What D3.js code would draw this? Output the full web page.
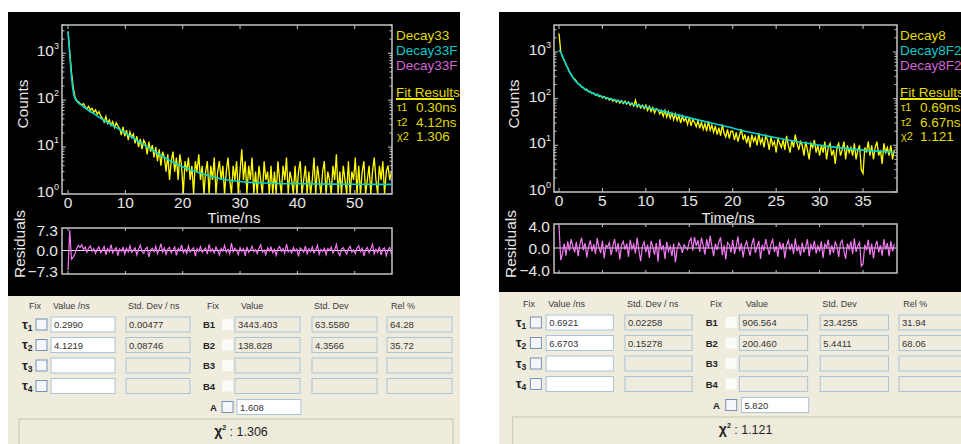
<!DOCTYPE html>
<html>
<head>
<meta charset="utf-8">
<script src="https://cdn.jsdelivr.net/npm/d3@7"></script>
<style>
  body { margin: 0; background: #fff; }
  svg { display: block; }
  text { font-family: "Liberation Sans", Arial, sans-serif; }
</style>
</head>
<body>
<div id="chart"></div>
<script>
// ---- left panel (Decay33) ----
var leftStep = 0.3; // ns per channel
var leftCounts = [
  2900, 1050, 400, 190, 120, 98, 92, 85, 80, 84,
  72, 66, 74, 61, 67, 55, 62, 50, 57, 46,
  41, 34, 45, 32, 38, 29, 35, 26, 33, 28,
  25, 18, 27, 17, 23, 14, 21, 16, 19, 12,
  17, 10, 15, 9, 14, 12, 7, 13, 8, 11,
  6, 10, 5, 9, 4, 8, 6, 3, 7, 2,
  5, 8, 3, 6, 2, 7, 4, 1, 5, 3,
  6, 2, 4, 1, 5, 3, 7, 2, 4, 1,
  3, 5, 1, 4, 2, 6, 1, 3, 5, 2,
  4, 1, 3, 6, 2, 1, 4, 2, 5, 1,
  3, 9, 2, 5, 1, 4, 2, 6, 1, 3,
  1, 4, 2, 1, 5, 2, 3, 1, 4, 1,
  3, 1, 5, 2, 1, 4, 2, 6, 1, 3,
  2, 1, 4, 1, 3, 5, 1, 2, 4, 1,
  3, 1, 2, 6, 1, 4, 2, 1, 3, 5,
  1, 3, 2, 1, 4, 2, 7, 1, 3, 1,
  4, 2, 1, 5, 1, 3, 2, 6, 1, 4,
  1, 3, 5, 1, 2, 4, 1, 3, 6, 2,
  1, 4, 2, 5, 1, 3, 4, 2, 3
];
var leftFitT = [0, 0.2, 0.4, 0.6, 0.8, 1.0, 1.3, 1.7, 2.2, 3, 4, 5, 6, 8, 10, 12, 15, 18, 20, 23, 26, 30, 35, 40, 46, 52, 56.4];
var leftFit  = [2900, 1400, 650, 320, 190, 135, 105, 90, 80, 68, 56, 47, 39, 28, 20, 14, 8.2, 5.0, 3.8, 2.8, 2.2, 1.85, 1.7, 1.65, 1.62, 1.61, 1.6];
var leftResid = [
  -7.0, 7.2, -3.1, -2.4, -1.2, 0.6, 1.8, 1.1, 2.0, 0.4,
  1.2, -0.6, 0.9, 1.6, -0.3, 0.7, -1.1, 0.5, 1.3, -0.8,
  0.2, 1.4, -1.5, 0.6, -0.4, 2.1, -0.9, 0.3, 1.0, -1.8,
  0.5, -0.2, 1.1, -1.3, 0.8, -0.5, 1.7, -0.7, 0.1, 0.9,
  -1.6, 0.4, 1.9, -0.3, -1.0, 0.6, 1.2, -2.3, 0.2, 0.8,
  -0.4, 1.5, -1.2, 0.3, 2.4, -0.6, 0.9, -1.4, 0.5, 1.1,
  -0.9, 0.2, 1.3, -1.7, 0.7, -0.2, 2.0, -0.8, 0.4, -1.1,
  1.6, -0.5, 0.3, 1.0, -2.0, 0.6, -0.3, 1.4, -0.7, 0.2,
  0.9, -1.3, 2.2, -0.4, 0.5, -0.9, 1.2, 0.1, -1.6, 0.7,
  -0.2, 1.8, -0.6, 0.4, -1.2, 2.6, -0.5, 0.8, -0.1, -1.4,
  1.0, -0.3, 0.6, -1.9, 1.3, -0.7, 0.2, 1.5, -0.4, 0.3,
  -1.1, 0.8, 2.0, -0.6, 0.1, -1.5, 0.9, -0.2, 1.2, -0.8,
  0.4, -1.7, 0.6, 1.4, -0.3, 0.7, -1.0, 2.3, -0.5, 0.2,
  -0.9, 1.1, -0.2, 0.5, -2.1, 0.9, 0.3, -0.6, 1.6, -1.2,
  0.6, -0.4, 1.3, -0.8, 0.2, 1.9, -1.4, 0.4, -0.3, 0.8,
  -1.5, 0.7, 0.1, 1.2, -0.9, 0.3, 2.1, -0.7, -1.8, 0.5,
  1.0, -0.2, -1.3, 0.6, 1.5, -0.6, 0.2, -1.1, 0.9, 1.7,
  -0.4, 0.8, -1.9, 0.3, 1.1, -0.8, 0.5, 2.2, -1.2, 0.4,
  -0.7, 1.3, -1.6, 0.6, 0.9, -1.8, 0.2, 1.1, -1.3
];
var leftXTicks = [0, 10, 20, 30, 40, 50];
var leftLegend = ["Decay33", "Decay33F", "Decay33F"];
var leftFitRes = ["0.30ns", "4.12ns", "1.306"];
var leftTau = ["0.2990", "4.1219", "", ""];
var leftTauSd = ["0.00477", "0.08746", "", ""];
var leftB = ["3443.403", "138.828", "", ""];
var leftBSd = ["63.5580", "4.3566", "", ""];
var leftRel = ["64.28", "35.72", "", ""];
var leftA = "1.608";
var leftChi = "1.306";

// ---- right panel (Decay8) ----
var rightStep = 0.2;
var rightCounts = [
  2500, 1000, 780, 660, 530, 460, 370, 335, 280, 262,
  236, 205, 199, 178, 174, 155, 158, 140, 143, 128,
  132, 118, 125, 110, 116, 104, 111, 99, 104, 93,
  101, 88, 96, 84, 93, 80, 90, 78, 88, 76,
  85, 72, 81, 69, 92, 66, 75, 63, 72, 61,
  72, 56, 68, 53, 64, 49, 61, 58, 47, 55,
  42, 56, 40, 52, 38, 49, 35, 47, 34, 44,
  30, 42, 33, 38, 28, 40, 26, 36, 31, 25,
  34, 23, 31, 22, 29, 20, 33, 21, 27, 19,
  26, 17, 24, 16, 28, 18, 15, 22, 14, 20,
  20, 13, 19, 12, 17, 22, 13, 17, 11, 16,
  9, 17, 12, 15, 10, 18, 11, 14, 9, 16,
  13, 8, 15, 10, 12, 7, 14, 11, 9, 13,
  8, 16, 10, 7, 13, 9, 17, 11, 8, 12,
  10, 6, 12, 8, 5, 11, 9, 13, 7, 10,
  6, 10, 7, 12, 5, 9, 11, 6, 8, 4,
  9, 11, 6, 8, 12, 5, 10, 7, 9, 6,
  11, 5, 8, 10, 3, 2.5, 9, 7, 12, 6,
  10, 5, 9, 12, 6, 8, 4, 11, 7, 9,
  6, 10, 5, 8
];
var rightFitT = [0, 0.3, 0.7, 1.2, 1.8, 2.5, 3.5, 5, 7, 10, 13, 16, 19, 22, 25, 28, 31, 34, 37, 38.6];
var rightFit  = [1100, 900, 600, 380, 250, 185, 140, 110, 88, 66, 48, 35, 26, 19, 14.5, 11.5, 9.5, 8.2, 7.4, 7.1];
var rightResid = [
  4.0, -2.2, -1.0, 0.8, -1.4, 1.2, -0.5, 1.6, 0.3, -0.8,
  1.1, -1.5, 0.6, 1.9, -0.4, 0.9, -1.7, 0.2, 1.4, -0.6,
  0.7, -1.1, 1.8, 0.1, -0.9, 1.3, -1.9, 0.5, 0.2, 1.0,
  -1.3, 0.4, 1.6, -0.7, 0.9, -2.1, 0.6, 1.2, -0.3, 0.8,
  -1.6, 1.5, -0.2, 0.7, -1.0, 1.9, -0.5, -2.4, 0.3, 1.1,
  -0.8, 0.6, -1.8, 1.3, 0.2, -1.2, 0.9, -2.5, 1.6, -0.4,
  0.5, -2.0, 1.1, -0.6, 0.3, -1.5, 0.8, -2.6, -0.2, 0.9,
  0.2, -0.9, 0.6, 0.1, -0.3, 1.2, 1.8, -0.5, 2.0, 0.4,
  1.4, -0.7, 1.9, 0.5, -1.2, 1.6, -0.1, 2.2, 0.3, -1.5,
  0.8, -0.4, 1.1, 1.9, -1.3, 0.5, -2.1, 1.0, 0.6, -0.8,
  1.5, -1.1, 0.3, 2.1, -0.6, 0.9, -1.7, 0.4, 1.2, -0.2,
  -1.4, 0.7, 1.8, -0.9, 0.2, 1.3, -2.0, 0.6, -0.5, 1.6,
  0.1, -1.2, 0.8, 1.5, -0.7, 0.4, -1.6, 1.1, -0.3, 0.9,
  -1.9, 0.5, 1.4, -0.4, 0.8, -1.1, 1.7, -0.6, 0.3, -1.4,
  1.0, -0.8, 0.2, 1.6, -1.5, 0.6, -0.2, 1.3, -1.0, 0.4,
  -0.6, 1.2, -1.8, 0.7, 0.1, 1.5, -1.3, 0.5, -0.9, 1.1,
  0.3, -1.6, 0.9, 1.4, -0.5, -2.0, 0.8, -0.2, 1.2, -1.1,
  1.7, -0.7, 0.4, 1.0, -3.3, -2.9, 0.6, -0.4, 1.5, -1.2,
  0.8, -1.9, 0.3, 1.3, -0.8, 0.5, -1.4, 1.6, -0.3, 0.9,
  -1.5, 1.2, -0.6, 0.7
];
var rightXTicks = [0, 5, 10, 15, 20, 25, 30, 35];
var rightLegend = ["Decay8", "Decay8F2", "Decay8F2"];
var rightFitRes = ["0.69ns", "6.67ns", "1.121"];
var rightTau = ["0.6921", "6.6703", "", ""];
var rightTauSd = ["0.02258", "0.15278", "", ""];
var rightB = ["906.564", "200.460", "", ""];
var rightBSd = ["23.4255", "5.4411", "", ""];
var rightRel = ["31.94", "68.06", "", ""];
var rightA = "5.820";
var rightChi = "1.121";

var decades = [1, 10, 100, 1000];
var legendColors = ["#e2da00", "#10c8c8", "#d466d4"];
var fitLabels = ["\u03c41", "\u03c42", "\u03c72"];

var svg = d3.select('#chart').append('svg')
    .attr('width', 961).attr('height', 444);

svg.append('rect').attr('width', 961).attr('height', 444).attr('fill', '#fff');

function drawPanel(p) {
  var g = svg.append('g');
  g.append('rect').attr('x', p.bx).attr('y', 12)
      .attr('width', p.bw).attr('height', p.bh).attr('fill', '#000');

  var x = d3.scaleLinear().domain(p.xDomain).range([p.x0, p.x1]);
  var y = d3.scaleLog().domain([1, p.yMax]).range([p.yb, 25]).clamp(true);
  var ry = d3.scaleLinear().domain([-p.rMax, p.rMax]).range([p.rLo, p.rHi]);

  // clip areas
  g.append('clipPath').attr('id', p.id + 'c1').append('rect')
      .attr('x', p.x0).attr('y', 25).attr('width', p.x1 - p.x0).attr('height', p.yb - 25);
  g.append('clipPath').attr('id', p.id + 'c2').append('rect')
      .attr('x', p.x0).attr('y', p.rt).attr('width', p.x1 - p.x0).attr('height', p.rb - p.rt);

  // decay data
  var line = d3.line()
      .x(function(d, i) { return x(i * p.step); })
      .y(function(d) { return y(Math.max(1, d)); });
  g.append('path').datum(p.counts)
      .attr('clip-path', 'url(#' + p.id + 'c1)')
      .attr('d', line).attr('fill', 'none')
      .attr('stroke', '#ffff00').attr('stroke-width', 1.3);

  // fit curve
  var fitLine = d3.line()
      .x(function(d, i) { return x(p.fitT[i]); })
      .y(function(d) { return y(d); })
      .curve(d3.curveMonotoneX);
  g.append('path').datum(p.fit)
      .attr('clip-path', 'url(#' + p.id + 'c1)')
      .attr('d', fitLine).attr('fill', 'none')
      .attr('stroke', '#00d4d4').attr('stroke-width', 1.6);

  // frame + ticks (main)
  g.append('rect').attr('x', p.x0).attr('y', 25)
      .attr('width', p.x1 - p.x0).attr('height', p.yb - 25)
      .attr('fill', 'none').attr('stroke', '#c4c4c4').attr('stroke-width', 1.5);

  var ticksG = g.append('g').attr('stroke', '#c4c4c4').attr('stroke-width', 1);
  p.xTicks.forEach(function(t) {
    ticksG.append('line').attr('x1', x(t)).attr('x2', x(t)).attr('y1', p.yb).attr('y2', p.yb - 4);
    ticksG.append('line').attr('x1', x(t)).attr('x2', x(t)).attr('y1', 25).attr('y2', 29);
    ticksG.append('line').attr('x1', x(t)).attr('x2', x(t)).attr('y1', p.rb).attr('y2', p.rb - 3);
    ticksG.append('line').attr('x1', x(t)).attr('x2', x(t)).attr('y1', p.rt).attr('y2', p.rt + 3);
  });
  y.ticks().forEach(function(v) {
    var major = decades.indexOf(v) >= 0;
    var len = major ? 4 : 2.5;
    ticksG.append('line').attr('x1', p.x0).attr('x2', p.x0 + len).attr('y1', y(v)).attr('y2', y(v));
    ticksG.append('line').attr('x1', p.x1).attr('x2', p.x1 - len).attr('y1', y(v)).attr('y2', y(v));
  });

  // tick labels
  g.selectAll('.xl').data(p.xTicks).enter().append('text')
      .attr('x', function(d) { return x(d); })
      .attr('y', p.yb + 13.5)
      .attr('text-anchor', 'middle').attr('font-size', 15.5).attr('fill', '#e6e6e6')
      .text(function(d) { return d; });
  var yl = g.selectAll('.yl').data(decades).enter().append('text')
      .attr('x', p.x0 - 3)
      .attr('y', function(d) { return y(d) + 3; })
      .attr('text-anchor', 'end').attr('font-size', 15.5).attr('fill', '#e6e6e6');
  yl.append('tspan').text('10');
  yl.append('tspan').attr('font-size', 9).attr('dy', -7)
      .text(function(d) { return Math.round(Math.log10(d)); });

  // axis titles
  g.append('text').attr('x', p.tx).attr('y', 223).attr('text-anchor', 'middle')
      .attr('font-size', 15).attr('fill', '#e6e6e6').text('Time/ns');
  g.append('text').attr('transform', 'translate(' + (p.bx + 20) + ',104) rotate(-90)')
      .attr('text-anchor', 'middle').attr('font-size', 15.5).attr('fill', '#e6e6e6').text('Counts');
  g.append('text').attr('transform', 'translate(' + (p.bx + 17) + ',244) rotate(-90)')
      .attr('text-anchor', 'middle').attr('font-size', 15.5).attr('fill', '#e6e6e6').text('Residuals');

  // residuals
  g.append('line').attr('x1', p.x0).attr('x2', p.x1).attr('y1', ry(0)).attr('y2', ry(0))
      .attr('stroke', '#e0e0e0').attr('stroke-width', 1);
  var rLine = d3.line()
      .x(function(d, i) { return x(i * p.step); })
      .y(function(d) { return ry(d); });
  g.append('path').datum(p.resid)
      .attr('clip-path', 'url(#' + p.id + 'c2)')
      .attr('d', rLine).attr('fill', 'none')
      .attr('stroke', '#f47af4').attr('stroke-width', 1.2);
  g.append('rect').attr('x', p.x0).attr('y', p.rt)
      .attr('width', p.x1 - p.x0).attr('height', p.rb - p.rt)
      .attr('fill', 'none').attr('stroke', '#c4c4c4').attr('stroke-width', 1.5);
  var rTicks = [p.rMax, 0, -p.rMax];
  g.selectAll('.rl').data(rTicks).enter().append('text')
      .attr('x', p.x0 - 4)
      .attr('y', function(d) { return ry(d) + 5.5; })
      .attr('text-anchor', 'end').attr('font-size', 15.5).attr('fill', '#e6e6e6')
      .text(function(d) { return d3.format('.1f')(d); });

  // legend
  var lg = g.append('g').attr('font-size', 13.5);
  p.legend.forEach(function(s, i) {
    lg.append('text').attr('x', p.lx).attr('y', 40 + i * 15)
        .attr('fill', legendColors[i]).text(s);
  });
  lg.append('text').attr('x', p.lx).attr('y', 97).attr('fill', '#e2da00').text('Fit Results');
  lg.append('line').attr('x1', p.lx).attr('x2', p.lx + 58).attr('y1', 99).attr('y2', 99)
      .attr('stroke', '#f2ea00').attr('stroke-width', 2);
  p.fitRes.forEach(function(s, i) {
    lg.append('text').attr('x', p.lx + 1).attr('y', 111 + i * 14.5)
        .attr('font-family', '"Liberation Serif", serif').attr('font-size', 11)
        .attr('fill', '#e2da00').text(fitLabels[i]);
    lg.append('text').attr('x', p.lx + 20).attr('y', 112 + i * 14.5)
        .attr('fill', '#e2da00').text(s);
  });
}

function drawTable(t) {
  var g = svg.append('g');
  g.append('rect').attr('x', t.bx).attr('y', t.by).attr('width', t.bw).attr('height', 444 - t.by)
      .attr('fill', '#efecde');
  function X(v) { return t.ox + v * t.sx; }
  var rowsY = [28.5, 49, 69.5, 90];
  function Y(v) { return t.oy + v; }

  var hdr = g.append('g').attr('font-size', 9).attr('fill', '#3a3a3a');
  [["Fix", 21], ["Value /ns", 45], ["Std. Dev / ns", 120], ["Fix", 199], ["Value", 233], ["Std. Dev", 306], ["Rel %", 383]]
    .forEach(function(h) { hdr.append('text').attr('x', X(h[1])).attr('y', Y(13)).text(h[0]); });

  function box(x0, w, cy, fill, txt) {
    g.append('rect').attr('x', X(x0)).attr('y', Y(cy - 7.5)).attr('width', w * t.sx).attr('height', 15)
        .attr('fill', fill).attr('stroke', '#a9c4d6').attr('stroke-width', 1);
    if (txt) g.append('text').attr('x', X(x0) + 3).attr('y', Y(cy + 3.5))
        .attr('font-size', 9.5).attr('fill', '#333').text(txt);
  }
  function check(x0, cy, bordered) {
    g.append('rect').attr('x', X(x0)).attr('y', Y(cy - 5.5)).attr('width', 11).attr('height', 11)
        .attr('fill', bordered ? '#f4f6f9' : '#fbfbf8')
        .attr('stroke', bordered ? '#7592b8' : 'none').attr('stroke-width', 1);
  }

  rowsY.forEach(function(cy, i) {
    var tl = g.append('text').attr('x', X(14)).attr('y', Y(cy + 4))
        .attr('font-family', '"DejaVu Serif", serif').attr('font-weight', 'bold')
        .attr('font-size', 13).attr('fill', '#222');
    tl.append('tspan').text('\u03c4');
    tl.append('tspan').attr('font-size', 8.5).attr('dy', 2).text(i + 1);
    check(28, cy, true);
    box(43, 64, cy, '#fff', t.tau[i]);
    box(118, 64, cy, '#efecde', t.tauSd[i]);
    g.append('text').attr('x', X(195)).attr('y', Y(cy + 3.5)).attr('font-size', 9.5)
        .attr('font-weight', 'bold').attr('fill', '#222').text('B' + (i + 1));
    check(214, cy, false);
    box(227, 65, cy, '#efecde', t.b[i]);
    box(304, 65, cy, '#efecde', t.bSd[i]);
    box(379, 65, cy, '#efecde', t.rel[i]);
  });
  g.append('text').attr('x', X(202)).attr('y', Y(114.5)).attr('font-size', 9.5)
      .attr('font-weight', 'bold').attr('fill', '#222').text('A');
  check(214, 111, true);
  box(229, 64, 111, '#fff', t.a);

  g.append('rect').attr('x', X(11)).attr('y', Y(123)).attr('width', 434 * t.sx).attr('height', 40)
      .attr('fill', '#eeebdc').attr('stroke', '#cfcab6').attr('stroke-width', 1.2);
  var ct = g.append('text').attr('x', X(233)).attr('y', Y(140)).attr('text-anchor', 'middle')
      .attr('font-family', '"Liberation Serif", serif').attr('font-size', 12.5).attr('fill', '#222');
  ct.append('tspan').attr('font-weight', 'bold').attr('font-size', 14).text('\u03c7');
  ct.append('tspan').attr('font-size', 7).attr('dy', -6).attr('font-weight', 'bold').text('2');
  ct.append('tspan').attr('dy', 6).text(' : ' + t.chi);
}

drawPanel({
  id: 'L', bx: 8, bw: 452, bh: 284,
  x0: 62, x1: 392, xDomain: [-1.05, 56.5], yb: 194, yMax: 4000,
  rt: 228, rb: 274, rLo: 271, rHi: 230, rMax: 7.3,
  step: leftStep, counts: leftCounts, fitT: leftFitT, fit: leftFit, resid: leftResid,
  xTicks: leftXTicks, tx: 234, lx: 396, legend: leftLegend, fitRes: leftFitRes
});
drawPanel({
  id: 'R', bx: 499, bw: 462, bh: 280,
  x0: 554, x1: 897, xDomain: [-0.576, 38.91], yb: 192, yMax: 3770,
  rt: 224, rb: 273, rLo: 270, rHi: 226, rMax: 4.0,
  step: rightStep, counts: rightCounts, fitT: rightFitT, fit: rightFit, resid: rightResid,
  xTicks: rightXTicks, tx: 728, lx: 900, legend: rightLegend, fitRes: rightFitRes
});

drawTable({
  bx: 8, by: 296, bw: 452, ox: 8, oy: 296, sx: 1,
  tau: leftTau, tauSd: leftTauSd, b: leftB, bSd: leftBSd, rel: leftRel, a: leftA, chi: leftChi
});
drawTable({
  bx: 499, by: 292, bw: 462, ox: 501, oy: 294, sx: 1.05,
  tau: rightTau, tauSd: rightTauSd, b: rightB, bSd: rightBSd, rel: rightRel, a: rightA, chi: rightChi
});
</script>
</body>
</html>
